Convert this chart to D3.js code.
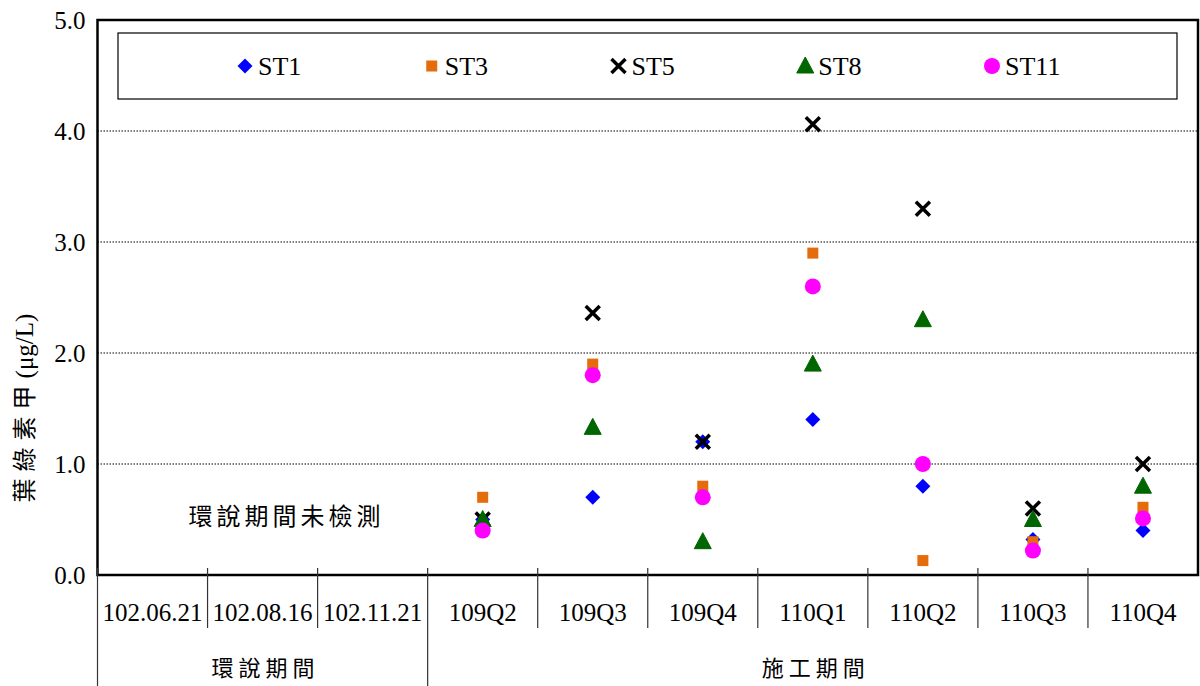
<!DOCTYPE html>
<html>
<head>
<meta charset="utf-8">
<script src="https://cdn.jsdelivr.net/npm/d3@7/dist/d3.min.js"></script>
<style>
html,body{margin:0;padding:0;background:#fff;}
svg{display:block;}
</style>
</head>
<body>
<svg id="chart" width="1200" height="686"></svg>
<script>
const categories = ["102.06.21","102.08.16","102.11.21","109Q2","109Q3","109Q4","110Q1","110Q2","110Q3","110Q4"];
const groups = [{name:"環說期間", from:0, to:2},{name:"施工期間", from:3, to:9}];
const yTicks = [0,1,2,3,4,5];
const seriesNames = ["ST1","ST3","ST5","ST8","ST11"];
const ST1  = [null,null,null,0.5,0.7,1.2,1.4,0.8,0.32,0.4];
const ST3  = [null,null,null,0.7,1.9,0.8,2.9,0.13,0.3,0.61];
const ST5  = [null,null,null,0.5,2.36,1.2,4.06,3.3,0.6,1.0];
const ST8  = [null,null,null,0.5,1.33,0.3,1.9,2.3,0.5,0.8];
const ST11 = [null,null,null,0.4,1.8,0.7,2.6,1.0,0.22,0.51];
const noteText = "環說期間未檢測";
const yTitleCJK = "葉綠素甲";
const yTitleUnit = "(μg/L)";

const seriesData = [ST1,ST3,ST5,ST8,ST11];
const styles = [
  {shape:"diamond", color:"#0000ff"},
  {shape:"square", color:"#e46c0a"},
  {shape:"x", color:"#000000"},
  {shape:"triangle", color:"#006600"},
  {shape:"circle", color:"#ff00ff"}
];

const svg = d3.select("#chart");
const L = 97.5, R = 1198, T = 20, B = 575;
const x = d3.scaleBand().domain(categories).range([L,R]).padding(0);
const y = d3.scaleLinear().domain([0,5]).range([B,T]);
const serif = "'Liberation Serif','Times New Roman',serif";
const cjk = "'Noto Sans CJK TC','Noto Sans CJK SC',sans-serif";

// gridlines
svg.append("g").selectAll("line").data(yTicks.filter(d=>d>0&&d<5)).join("line")
  .attr("x1",L).attr("x2",R).attr("y1",d=>y(d)).attr("y2",d=>y(d))
  .attr("stroke","#000").attr("stroke-width",1).attr("stroke-dasharray","1.5,1.5");

// y axis
const yAxis = d3.axisLeft(y).tickValues(yTicks).tickFormat(d3.format(".1f")).tickSize(0).tickPadding(12);
const ya = svg.append("g").attr("transform",`translate(${L},0)`).call(yAxis);
ya.select(".domain").remove();
ya.selectAll("text").attr("font-family",serif).attr("font-size",25).attr("fill","#000");

// plot border
svg.append("rect").attr("x",L).attr("y",T).attr("width",R-L).attr("height",B-T)
  .attr("fill","none").attr("stroke","#000").attr("stroke-width",2.5);

// x category separators
const bounds = categories.map(c=>x(c));
svg.append("g").selectAll("line").data(bounds).join("line")
  .attr("x1",d=>d).attr("x2",d=>d).attr("y1",B-7).attr("y2",(d,i)=>(i===0||i===3)?686:628)
  .attr("stroke","#333").attr("stroke-width",1.2);

// category labels via axis
const xAxis = d3.axisBottom(x).tickSize(0).tickPadding(0);
const xa = svg.append("g").attr("transform",`translate(0,${B})`).call(xAxis);
xa.select(".domain").remove();
xa.selectAll("text").attr("font-family",serif).attr("font-size",25).attr("fill","#000")
  .attr("dy",null).attr("y",46);

// group labels
svg.append("g").selectAll("text").data(groups).join("text")
  .attr("x",d=>(x(categories[d.from]) + x(categories[d.to]) + x.bandwidth())/2 + 3)
  .attr("y",676).attr("text-anchor","middle")
  .attr("font-family",cjk).attr("font-size",22).attr("letter-spacing",5).attr("fill","#000")
  .text(d=>d.name);

// note
svg.append("text").attr("x",(x(categories[0])+x(categories[2])+x.bandwidth())/2+24).attr("y",525)
  .attr("text-anchor","middle").attr("font-family",cjk).attr("font-size",24).attr("letter-spacing",4)
  .attr("fill","#000").text(noteText);

// y title
const yt = svg.append("text").attr("transform","translate(33,408) rotate(-90)")
  .attr("text-anchor","middle").attr("font-size",24).attr("fill","#000");
yt.append("tspan").attr("font-family",cjk).attr("letter-spacing",7).text(yTitleCJK);
yt.append("tspan").attr("font-family",serif).attr("font-size",25).text(yTitleUnit);

// markers
function drawMarker(g, shape, color, cx, cy){
  if(shape==="diamond"){
    g.append("path").attr("d",`M${cx},${cy-7.5}L${cx+7.5},${cy}L${cx},${cy+7.5}L${cx-7.5},${cy}Z`).attr("fill",color);
  } else if(shape==="square"){
    g.append("rect").attr("x",cx-5.5).attr("y",cy-5.5).attr("width",11).attr("height",11).attr("fill",color);
  } else if(shape==="x"){
    g.append("path").attr("d",`M${cx-7},${cy-7}L${cx+7},${cy+7}M${cx-7},${cy+7}L${cx+7},${cy-7}`)
      .attr("stroke",color).attr("stroke-width",3.5).attr("fill","none");
  } else if(shape==="triangle"){
    g.append("path").attr("d",`M${cx},${cy-9}L${cx+8.5},${cy+7}L${cx-8.5},${cy+7}Z`).attr("fill",color)
      .attr("stroke",color).attr("stroke-width",1).attr("stroke-linejoin","round");
  } else {
    g.append("circle").attr("cx",cx).attr("cy",cy).attr("r",8).attr("fill",color);
  }
}
const mg = svg.append("g");
seriesData.forEach((arr,si)=>{
  arr.forEach((v,ci)=>{
    if(v===null) return;
    drawMarker(mg, styles[si].shape, styles[si].color, x(categories[ci])+x.bandwidth()/2, y(v));
  });
});

// legend
const lg = svg.append("g");
lg.append("rect").attr("x",118).attr("y",33).attr("width",1059).attr("height",66)
  .attr("fill","#fff").attr("stroke","#000").attr("stroke-width",1.2);
const legX = d3.scalePoint().domain(seriesNames).range([245,992]);
seriesNames.forEach((n,i)=>{
  const cx = legX(n);
  drawMarker(lg, styles[i].shape, styles[i].color, cx, 66);
  lg.append("text").attr("x",cx+13).attr("y",75).attr("font-family",serif).attr("font-size",26)
    .attr("fill","#000").text(n);
});
</script>
</body>
</html>
